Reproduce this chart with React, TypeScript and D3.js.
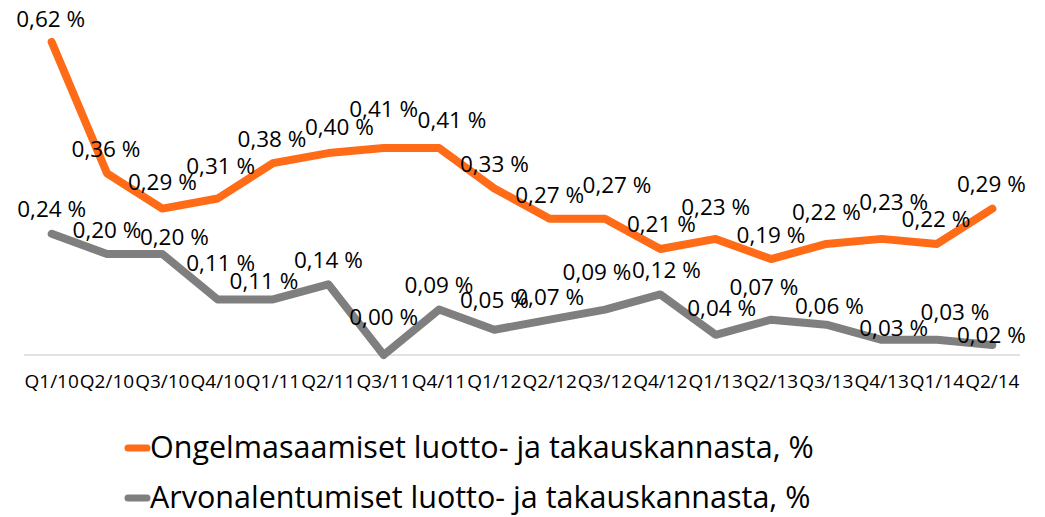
import React, { useRef, useEffect } from "react";
import * as d3 from "d3";

const quarters = [
  "Q1/10", "Q2/10", "Q3/10", "Q4/10", "Q1/11", "Q2/11", "Q3/11", "Q4/11", "Q1/12",
  "Q2/12", "Q3/12", "Q4/12", "Q1/13", "Q2/13", "Q3/13", "Q4/13", "Q1/14", "Q2/14",
];
const ongelmasaamiset = [
  0.62, 0.36, 0.29, 0.31, 0.38, 0.4, 0.41, 0.41, 0.33,
  0.27, 0.27, 0.21, 0.23, 0.19, 0.22, 0.23, 0.22, 0.29,
];
const arvonalentumiset = [
  0.24, 0.2, 0.2, 0.11, 0.11, 0.14, 0.0, 0.09, 0.05,
  0.07, 0.09, 0.12, 0.04, 0.07, 0.06, 0.03, 0.03, 0.02,
];
const seriesNames = [
  "Ongelmasaamiset luotto- ja takauskannasta, %",
  "Arvonalentumiset luotto- ja takauskannasta, %",
];
const seriesColors = ["#FF6B17", "#7F7F7F"];

// hand-placed data labels in the original: [dx, dy] from each point
const labelNudges = [
  [
    [-1, -15], [-1, -16], [0, -19], [3, -25], [-1, -16], [11, -18], [0, -31], [13, -20], [0, -16],
    [0, -16], [12, -26], [1, -17], [0, -24], [0, -16], [0, -24], [12, -29], [-1, -17], [-1, -17],
  ],
  [
    [0, -17], [0, -16], [12, -9], [3, -28], [-9, -10], [0, -16], [0, -30], [0, -17], [0, -22],
    [0, -15], [-8, -30], [6, -16], [6, -19], [-7, -25], [3, -11], [12, -4], [18, -20], [-1, -2],
  ],
];

const fmt = (v: number) => v.toFixed(2).replace(".", ",") + " %";

export default function App() {
  const ref = useRef<SVGSVGElement>(null);

  useEffect(() => {
    const width = 1045;
    const height = 517;
    const font = "'Open Sans', sans-serif";

    const svg = d3.select(ref.current).attr("width", width).attr("height", height);
    svg.selectAll("*").remove();
    svg.append("rect").attr("width", width).attr("height", height).attr("fill", "#fff");

    const x = d3.scaleBand().domain(quarters).range([24, 1020]);
    const y = d3.scaleLinear().domain([0, 0.62]).range([355, 42]);
    const cx = (q: string) => (x(q) as number) + x.bandwidth() / 2;

    // baseline axis
    svg
      .append("line")
      .attr("x1", x.range()[0])
      .attr("x2", x.range()[1])
      .attr("y1", y(0))
      .attr("y2", y(0))
      .attr("stroke", "#D9D9D9")
      .attr("stroke-width", 1.5);

    // category labels
    svg
      .selectAll("text.xlab")
      .data(quarters)
      .enter()
      .append("text")
      .attr("class", "xlab")
      .attr("x", (d) => cx(d))
      .attr("y", 388)
      .attr("text-anchor", "middle")
      .attr("textLength", x.bandwidth() - 1)
      .attr("lengthAdjust", "spacingAndGlyphs")
      .style("font-family", font)
      .style("font-size", "19px")
      .style("fill", "#000")
      .text((d) => d);

    const allSeries = [ongelmasaamiset, arvonalentumiset];
    const line = d3
      .line<number>()
      .x((_, i) => cx(quarters[i]))
      .y((d) => y(d));

    // gray drawn first so the orange stays on top
    [1, 0].forEach((s) => {
      svg
        .append("path")
        .datum(allSeries[s])
        .attr("d", line)
        .attr("fill", "none")
        .attr("stroke", seriesColors[s])
        .attr("stroke-width", 8)
        .attr("stroke-linejoin", "round")
        .attr("stroke-linecap", "round");
    });

    // data labels
    allSeries.forEach((vals, s) => {
      svg
        .append("g")
        .selectAll("text")
        .data(vals)
        .enter()
        .append("text")
        .attr("x", (_, i) => cx(quarters[i]) + labelNudges[s][i][0])
        .attr("y", (d, i) => y(d) + labelNudges[s][i][1])
        .attr("text-anchor", "middle")
        .style("font-family", font)
        .style("font-size", "22.5px")
        .style("fill", "#000")
        .text((d) => fmt(d));
    });

    // legend
    const legend = svg
      .selectAll("g.legend")
      .data(seriesNames)
      .enter()
      .append("g")
      .attr("class", "legend")
      .attr("transform", (_, i) => `translate(0,${448 + i * 50})`);
    legend
      .append("line")
      .attr("x1", 128)
      .attr("x2", 147)
      .attr("stroke", (_, i) => seriesColors[i])
      .attr("stroke-width", 7)
      .attr("stroke-linecap", "round");
    legend
      .append("text")
      .attr("x", 150)
      .attr("y", 10)
      .style("font-family", font)
      .style("font-size", "30.5px")
      .style("fill", "#000")
      .text((d) => d);
  }, []);

  return <svg ref={ref} style={{ position: "absolute", left: 0, top: 0 }}></svg>;
}
